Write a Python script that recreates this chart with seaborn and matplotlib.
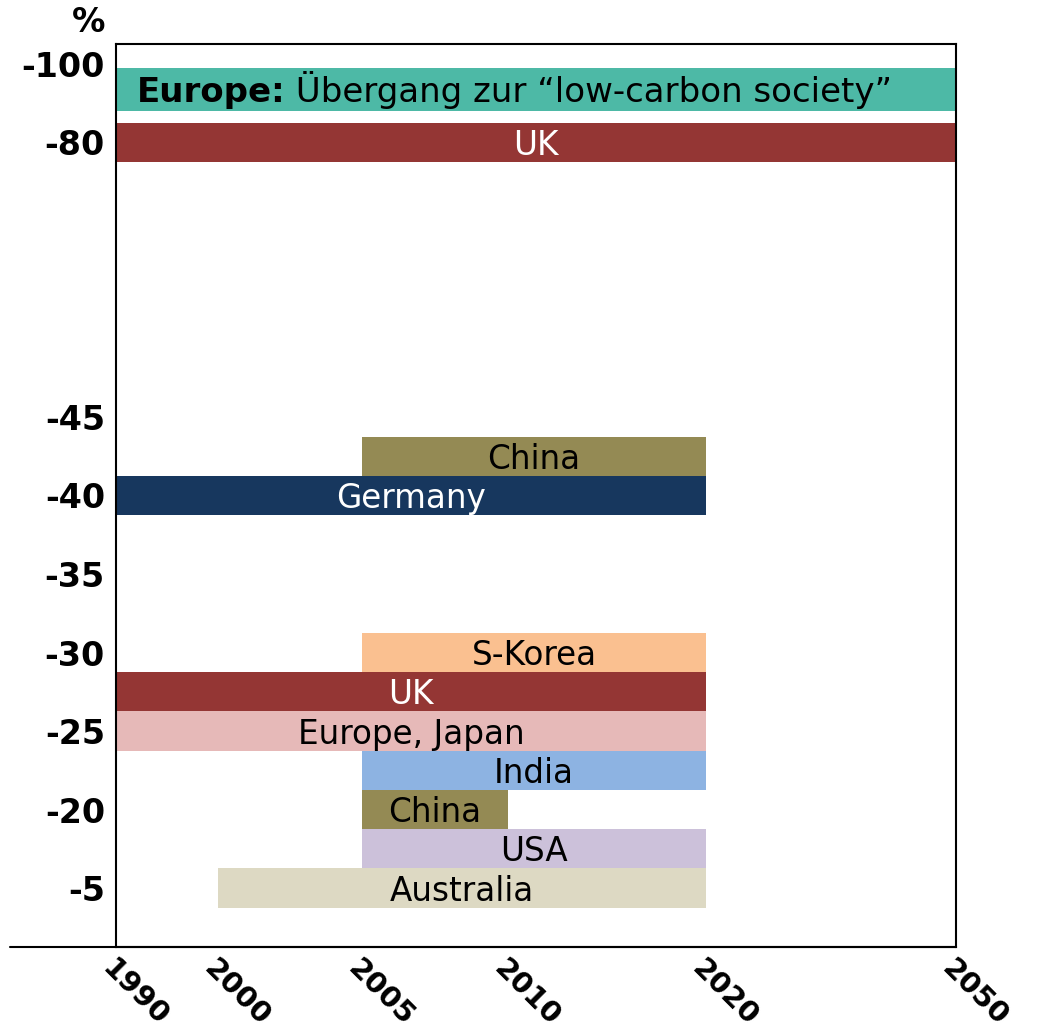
import numpy as np
import pandas as pd
import seaborn as sns
import matplotlib.pyplot as plt

# Reduction targets (% vs. 1990) and the period they apply to
labels = ['Australia', 'USA', 'China', 'India', 'Europe, Japan', 'UK',
          'S-Korea', 'Germany', 'China', 'UK']
start_year = [2000, 2005, 2005, 2005, 1990, 1990, 2005, 1990, 2005, 1990]
end_year = [2020, 2020, 2010, 2020, 2020, 2020, 2020, 2020, 2020, 2050]
row = [0, 1, 2, 3, 4, 5, 6, 10, 11, 19]
bar_colors = ['#DDD9C3', '#CCC1DA', '#948A54', '#8DB3E2', '#E6B9B8', '#943634',
              '#FAC090', '#17375E', '#948A54', '#943634']
text_colors = ['black', 'black', 'black', 'black', 'black', 'white',
               'black', 'white', 'black', 'white']

ytick_rows = [0, 2, 4, 6, 8, 10, 12, 19, 21]
ytick_labels = ['-5', '-20', '-25', '-30', '-35', '-40', '-45', '-80', '-100']

year_ticks = [1990, 2000, 2005, 2010, 2020, 2050]
year_layout = [0, 102, 246, 392, 590, 840]   # uneven spacing of the year axis

df = pd.DataFrame({'label': labels, 'start': start_year, 'end': end_year,
                   'row': row, 'color': bar_colors, 'tcolor': text_colors})

sns.set_theme(style='white')
plt.rcParams['font.family'] = ['DejaVu Sans']


def fwd(x):
    return np.interp(x, year_ticks, year_layout)


def inv(x):
    return np.interp(x, year_layout, year_ticks)


fig = plt.figure(figsize=(10.41, 10.35), dpi=100)
ax = fig.add_axes([116 / 1041, 88 / 1035, 840 / 1041, 903 / 1035])
ax.set_xscale('function', functions=(fwd, inv))

FS = 23.5

for _, r in df.iterrows():
    ax.barh(r['row'], r['end'] - r['start'], left=r['start'], height=1.0,
            color=r['color'], edgecolor='none')
    mid = inv((fwd(r['start']) + fwd(r['end'])) / 2)
    ax.text(mid, r['row'] - 0.08, r['label'], ha='center', va='center',
            fontsize=FS, color=r['tcolor'])

# Europe banner
ax.barh(20.35, 2050 - 1990, left=1990, height=1.1, color='#4DB9A6', edgecolor='none')
t1 = ax.text(1992, 20.27, 'Europe:', ha='left', va='center',
             fontsize=24.5, fontweight='bold', color='black')
ax.annotate(' Übergang zur \u201clow-carbon society\u201d', xy=(1, 0), xycoords=t1,
            ha='left', va='bottom', fontsize=24.5, color='black')

ax.set_xlim(1990, 2050)
ax.set_ylim(-1.5, 21.5)

ax.set_yticks(ytick_rows)
ax.set_yticklabels(ytick_labels, fontsize=24, fontweight='bold', color='black')
ax.set_xticks(year_ticks)
ax.set_xticklabels([str(y) for y in year_ticks], fontsize=21, fontweight='bold',
                   color='black', rotation=-45, ha='left', va='top',
                   rotation_mode='anchor')
ax.tick_params(axis='y', length=0, pad=8)
ax.tick_params(axis='x', length=0, pad=5)
ax.set_xlabel('')
ax.set_ylabel('')

for s in ax.spines.values():
    s.set_color('black')
    s.set_linewidth(1.5)
ax.plot([-0.126, 1], [0, 0], transform=ax.transAxes, color='black', lw=1.5,
        clip_on=False)

fig.text(105 / 1041, 1 - 22 / 1035, '%', ha='right', va='center',
         fontsize=24, fontweight='bold', color='black')

fig.savefig('out.png', dpi=100)
